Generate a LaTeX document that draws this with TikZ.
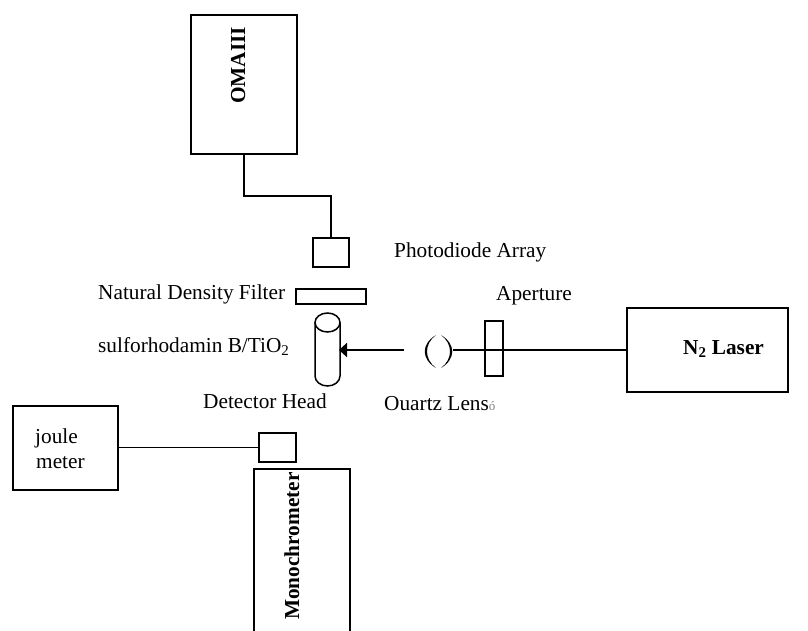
\documentclass[tikz,border=0pt]{standalone}
\usepackage{fontspec}
\setmainfont{Liberation Serif}
\usetikzlibrary{arrows.meta}
\tikzset{
  boxed/.style={draw=black,line width=1.5pt,fill=white,inner sep=0pt,minimum width=#1},
  lbl/.style={font=\fontsize{21.3}{24}\selectfont,inner sep=0pt,anchor=base west},
  blbl/.style={font=\fontsize{21.3}{24}\selectfont\bfseries,inner sep=0pt,anchor=base west},
  wire/.style={draw=black,line width=1.3pt},
  beam/.style={draw=black,line width=2.3pt}
}
\begin{document}
\begin{tikzpicture}[x=1pt,y=-1pt]
\useasboundingbox (0,0) rectangle (808,630);
% boxes
\node[boxed=106pt,minimum height=139pt] (oma) at (244,84.5) {};
\node[blbl,rotate=90] (omat) at (245,104) {OMAIII};
\node[boxed=36pt,minimum height=29pt] (pd) at (331,252.5) {};
\node[boxed=70pt,minimum height=15pt] (filter) at (331,296.5) {};
\node[boxed=18pt,minimum height=55pt] (ap) at (494,348.5) {};
\node[boxed=161pt,minimum height=84pt] (laser) at (707.5,350) {};
\node[blbl] (lasert) at (683,354) {N\textsubscript{2} Laser};
\node[boxed=105pt,minimum height=84pt] (joule) at (65.5,448) {};
\node[boxed=37pt,minimum height=29pt] (det) at (277.5,447.5) {};
% wires
\coordinate (c1) at (oma.south |- 0,196);
\coordinate (c2) at (pd.north |- 0,196);
\draw[wire] (oma.south) -- (c1) -- (c2) -- (pd.north);
\draw[wire] (joule.east |- det.west) -- (det.west);
% monochrometer, open at the bottom
\coordinate (m1) at (254,631);
\coordinate (m2) at (254,469);
\coordinate (m3) at (350,469);
\coordinate (m4) at (350,631);
\draw[line width=1.5pt] (m1) -- (m2) -- (m3) -- (m4);
\node[blbl,rotate=90] (mono) at (299,620) {Monochrometer};
% cylinder
\coordinate (cylL) at (315,322.5);
\coordinate (cylR) at (340,322.5);
\coordinate (cylBL) at (315,376);
\coordinate (cylBR) at (340,376);
\draw[line width=1.5pt] (cylL) -- (cylBL) arc[start angle=180,end angle=360,x radius=12.5pt,y radius=10pt] -- (cylR);
\draw[line width=1.5pt] (327.5,322.5) ellipse[x radius=12.5pt,y radius=9.5pt];
\coordinate (arrowEnd) at (339,350);
\coordinate (arrowStart) at (404,350);
\draw[beam,-{Triangle[length=8pt,width=14pt]}] (arrowStart) -- (arrowEnd);
% lens
\fill (436,335) .. controls (421,344) and (421,359) .. (436,368)
  .. controls (424,359) and (424,344) .. (436,335) -- cycle;
\fill (441,335) .. controls (456,344) and (456,359) .. (441,368)
  .. controls (453,359) and (453,344) .. (441,335) -- cycle;
\coordinate (beamStart) at (453,350);
\draw[beam] (beamStart) -- (laser.west);
% labels
\node[lbl] (l1) at (394,257) {Photodiode Array};
\node[lbl] (l2) at (98,299) {Natural Density Filter};
\node[lbl] (l3) at (496,300) {Aperture};
\node[lbl] (l4) at (98,352) {sulforhodamin B/TiO\textsubscript{2}};
\node[lbl] (l5) at (203,408) {Detector Head};
\node[lbl] (l6) at (384,410) {Ouartz Lens{\fontsize{13}{14}\selectfont\color{gray}ó}};
\node[lbl] (l7) at (35,443) {joule};
\node[lbl] (l8) at (36,468) {meter};
\end{tikzpicture}
\end{document}
